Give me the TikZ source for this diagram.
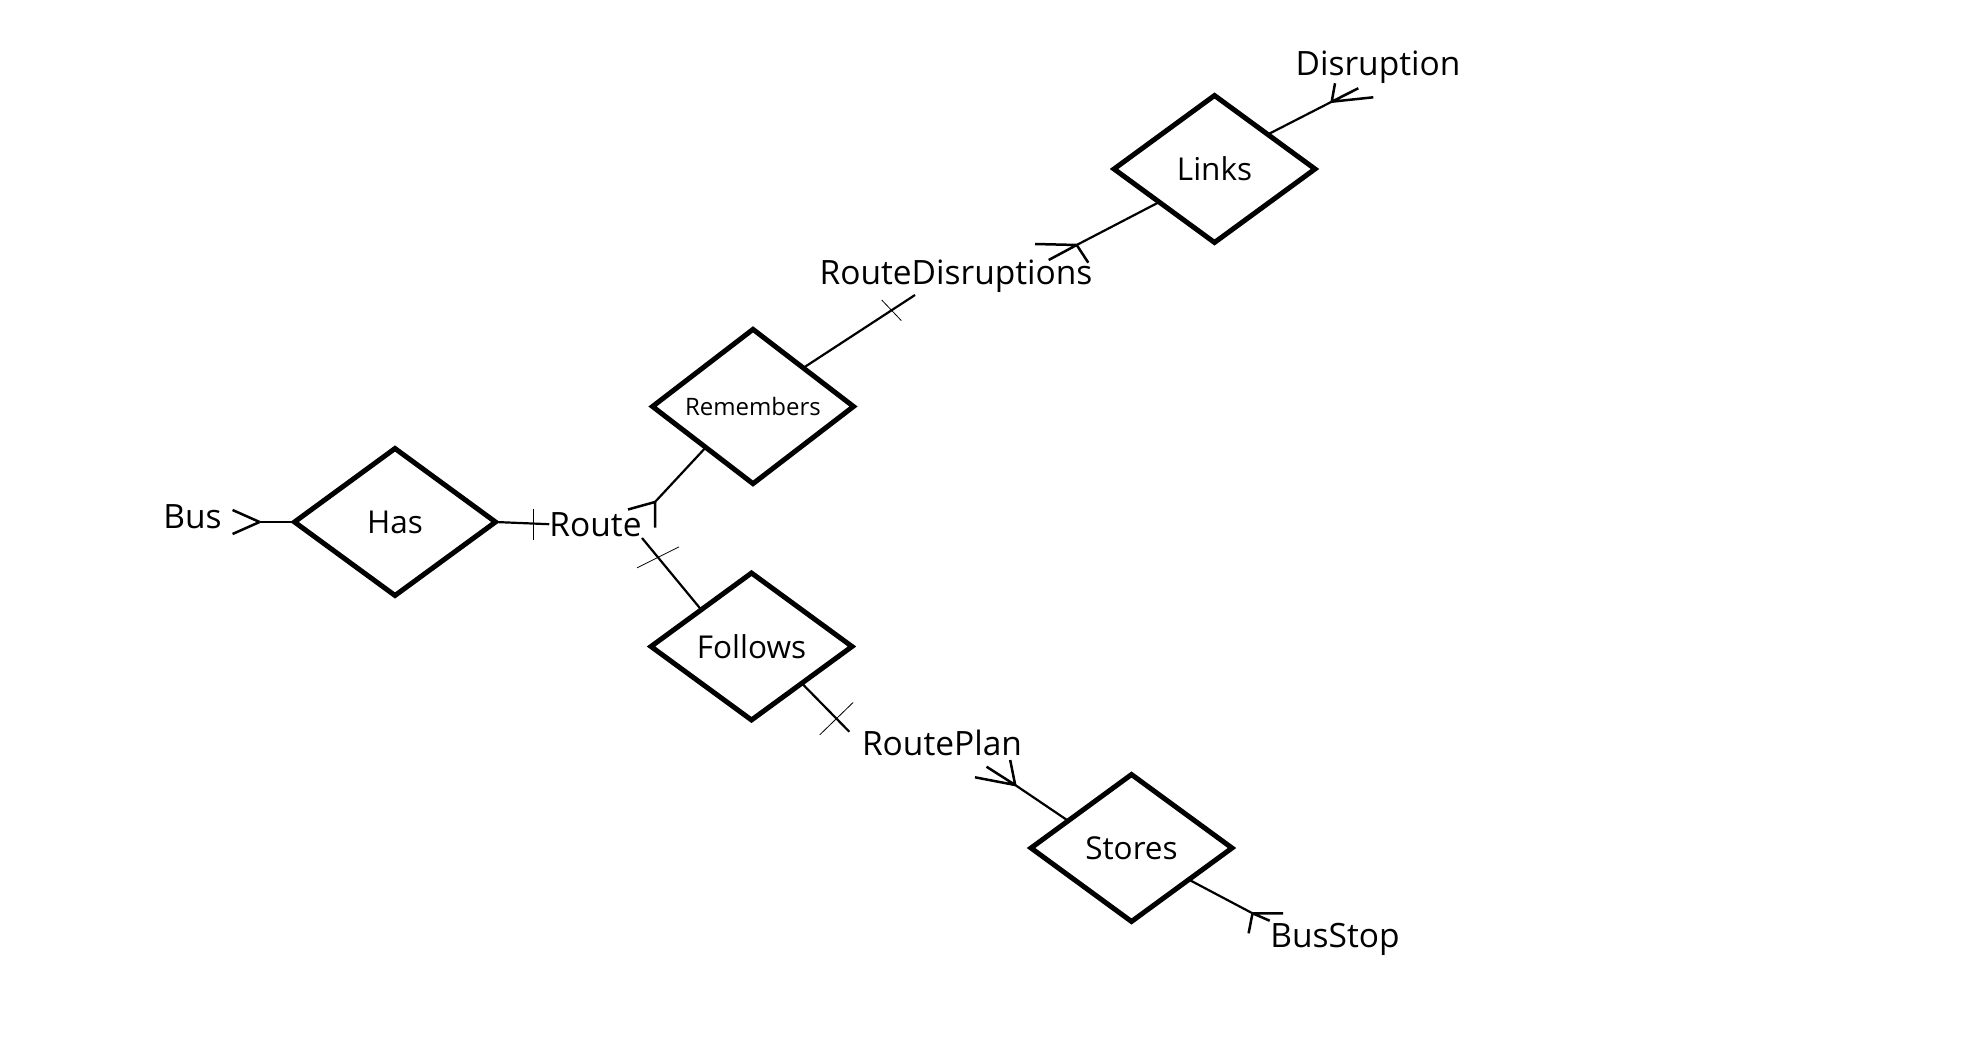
\documentclass[tikz,border=0pt]{standalone}
\usepackage{fontspec}
\setmainfont{Open Sans}
\usepackage{tikz}
\usetikzlibrary{shapes.geometric}
\usetikzlibrary{calc}

\begin{document}
\begin{tikzpicture}[x=1pt,y=-1pt]
\tikzstyle{relation}=[diamond,draw,line width=5pt,minimum width=201pt,minimum height=147pt,inner sep=0pt,outer sep=0pt,font=\fontsize{31.5}{37}\selectfont]
\tikzstyle{entity}=[inner sep=0pt,anchor=base,font=\fontsize{33.5}{40}\selectfont]
\tikzstyle{link}=[line width=2.2pt]
\tikzstyle{toe}=[line width=2.5pt]
\tikzstyle{tick}=[line width=0.8pt]

\useasboundingbox (0,0) rectangle (1978,1064);

\node[relation](has) at (395,522){Has};
\node[relation](remembers) at (753,406.5){\fontsize{24}{29}\selectfont Remembers};
\node[relation](follows) at (751.5,646.5){Follows};
\node[relation](links) at (1214.5,169){Links};
\node[relation](stores) at (1131.5,848){Stores};

\node[entity](bus) at (192.5,528){Bus};
\node[entity](route) at (595.5,536){Route};
\node[entity](routedis) at (956,285){RouteDisruptions};
\node[entity](disruption) at (1378,75.7){Disruption};
\node[entity](routeplan) at (942,755.7){RoutePlan};
\node[entity](busstop) at (1335,947.7){BusStop};

\coordinate (busfoot) at (259.6,522);
\coordinate (remfoot) at (655,502);
\coordinate (rdend) at (915,295);
\coordinate (rdfoot) at (1076.7,245);
\coordinate (disfoot) at (1331.7,101.7);
\coordinate (routelow) at (642,538);
\coordinate (planup) at (849.3,731.7);
\coordinate (planfoot) at (1015.2,785);
\coordinate (stopfoot) at (1252.5,913.3);

% Bus -- Has -- Route
\draw[link] (has.west) -- (busfoot);
\draw[toe] (busfoot) -- ++(-27,-12) (busfoot) -- ++(-27,12);
\draw[link] (has.east) -- (route.west);
\draw[tick] ($(has.east)!0.70!(route.west)$) +(0,-15) -- +(0,16);

% Route -- Remembers -- RouteDisruptions
\draw[link] ($(remembers.west)!0.53!(remembers.south)$) -- (remfoot);
\draw[toe] (remfoot) -- ++(-27,7.5) (remfoot) -- ++(0,25.5);
\draw[link] (remembers.north east) -- (rdend);
\draw[tick] ($(remembers.north east)!0.79!(rdend)$) +(-9.8,-10.3) -- +(9.8,10.3);

% RouteDisruptions -- Links -- Disruption
\draw[link] ($(links.west)!0.45!(links.south)$) -- (rdfoot);
\draw[toe] (rdfoot) -- ++(-28,15) (rdfoot) -- ++(-41.7,-1) (rdfoot) -- ++(11.6,17.7);
\draw[link] ($(links.north)!0.53!(links.east)$) -- (disfoot);
\draw[toe] (disfoot) -- ++(3.3,-18.4) (disfoot) -- ++(26.6,-13.4) (disfoot) -- ++(41.6,-4.4);

% Route -- Follows -- RoutePlan
\draw[link] (follows.north west) -- (routelow);
\draw[tick] ($(routelow)!0.27!(follows.north west)$) +(-21,10.5) -- +(21,-10.5);
\draw[link] (follows.south east) -- (planup);
\draw[tick] ($(follows.south east)!0.73!(planup)$) +(-16.7,16.2) -- +(16.7,-16.2);

% RoutePlan -- Stores -- BusStop
\draw[link] ($(stores.west)!0.37!(stores.north)$) -- (planfoot);
\draw[toe] (planfoot) -- ++(-40.2,-7.7) (planfoot) -- ++(-28.7,-18.3) (planfoot) -- ++(-5,-25);
\draw[link] ($(stores.south)!0.57!(stores.east)$) -- (stopfoot);
\draw[toe] (stopfoot) -- ++(17.2,7.4) (stopfoot) -- ++(30.5,0) (stopfoot) -- ++(-3.9,20);
\end{tikzpicture}
\end{document}
